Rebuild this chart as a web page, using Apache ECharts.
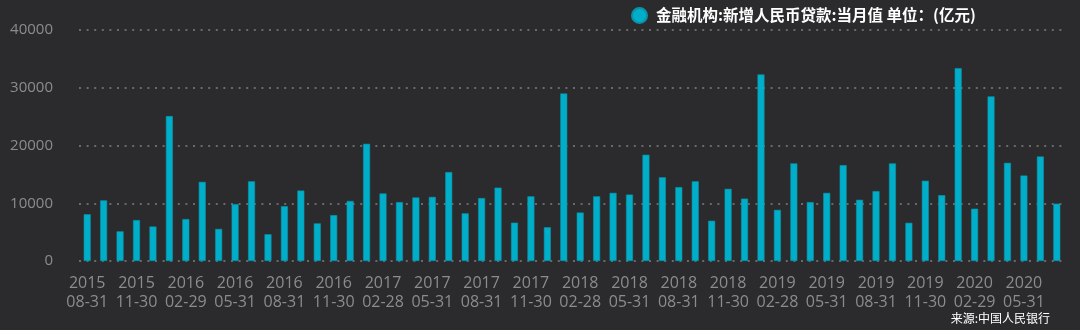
<!DOCTYPE html>
<html>
<head>
<meta charset="utf-8">
<script src="https://cdn.jsdelivr.net/npm/echarts@6/dist/echarts.min.js"></script>
<style>
html,body{margin:0;padding:0;background:#2b2b2d;}
#c{width:1080px;height:330px;}
</style>
</head>
<body>
<div id="c"></div>
<script>
const seriesName = '金融机构:新增人民币贷款:当月值 单位：(亿元)';
const sourceText = '来源:中国人民银行';
const categories = [
 '2015-08-31','2015-09-30','2015-10-31','2015-11-30','2015-12-31',
 '2016-01-31','2016-02-29','2016-03-31','2016-04-30','2016-05-31','2016-06-30','2016-07-31','2016-08-31','2016-09-30','2016-10-31','2016-11-30','2016-12-31',
 '2017-01-31','2017-02-28','2017-03-31','2017-04-30','2017-05-31','2017-06-30','2017-07-31','2017-08-31','2017-09-30','2017-10-31','2017-11-30','2017-12-31',
 '2018-01-31','2018-02-28','2018-03-31','2018-04-30','2018-05-31','2018-06-30','2018-07-31','2018-08-31','2018-09-30','2018-10-31','2018-11-30','2018-12-31',
 '2019-01-31','2019-02-28','2019-03-31','2019-04-30','2019-05-31','2019-06-30','2019-07-31','2019-08-31','2019-09-30','2019-10-31','2019-11-30','2019-12-31',
 '2020-01-31','2020-02-29','2020-03-31','2020-04-30','2020-05-31','2020-06-30','2020-07-31'
];
const loans = [
 8096,10500,5136,7089,5978,
 25100,7266,13700,5556,9855,13800,4636,9487,12200,6513,7946,10400,
 20300,11700,10200,11000,11100,15400,8255,10900,12700,6632,11200,5844,
 29000,8393,11200,11800,11500,18400,14500,12800,13800,6970,12500,10800,
 32300,8858,16900,10200,11800,16600,10600,12100,16900,6613,13900,11400,
 33400,9057,28500,17000,14800,18100,9927
];
const yTicks = [0,10000,20000,30000,40000];

const chart = echarts.init(document.getElementById('c'));
chart.setOption({
  backgroundColor: '#2b2b2d',
  animation: false,
  legend: {
    left: 626, top: 2,
    itemWidth: 15, itemHeight: 15, itemGap: 10,
    icon: 'circle',
    textStyle: {color: '#ffffff', fontSize: 15.5, fontWeight: 'bold', padding: [0,0,0,4], fontFamily: '"Noto Sans CJK SC", sans-serif'},
    data: [seriesName]
  },
  graphic: [{
    type: 'text', right: 30, top: 312,
    style: {text: sourceText, fill: '#ffffff', fontSize: 12, fontFamily: '"Noto Sans CJK SC", sans-serif'}
  }],
  grid: {left: 79, right: 15, top: 30, bottom: 69},
  xAxis: {
    type: 'category',
    data: categories,
    axisLine: {show: false},
    axisTick: {show: false},
    axisLabel: {
      interval: 2,
      color: '#8c8c8c', fontSize: 16, lineHeight: 19, margin: 13,
      fontFamily: '"Open Sans", sans-serif',
      formatter: function (v) { return v.slice(0,4) + '\n' + v.slice(5); }
    }
  },
  yAxis: {
    type: 'value',
    min: yTicks[0], max: yTicks[yTicks.length-1], interval: 10000,
    axisLine: {show: false},
    axisTick: {show: false},
    axisLabel: {color: '#8c8c8c', fontSize: 15, margin: 26, fontFamily: '"Open Sans", sans-serif',
      formatter: function (v) { return String(v); }},
    splitLine: {lineStyle: {color: '#6a6a6a', width: 2, type: [2, 5.6]}}
  },
  series: [{
    name: seriesName,
    type: 'bar',
    data: loans,
    barWidth: 7,
    itemStyle: {color: '#00aec9', borderColor: '#0a93a8', borderWidth: 0.6}
  }]
});
</script>
</body>
</html>
